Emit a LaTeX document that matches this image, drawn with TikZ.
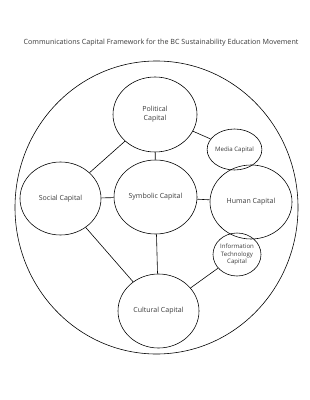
\documentclass[tikz,border=0pt]{standalone}
\usepackage{fontspec}
\setmainfont{Open Sans}
\usepackage{xcolor}
\definecolor{capText}{HTML}{3A3A3A}
\usetikzlibrary{positioning, shapes.geometric}

\begin{document}
\begin{tikzpicture}[x=0.03cm, y=-0.03cm,
    capital/.style={draw, ellipse, line width=0.5pt, inner sep=0pt,
        text=capText, align=center, font=\fontsize{6}{7.5}\selectfont},
    bigcap/.style={capital, minimum width=82*0.03cm, minimum height=74*0.03cm},
    smallcap/.style={capital, font=\fontsize{5.2}{6.5}\selectfont},
    link/.style={line width=0.5pt}]
    % Page frame, as in the reference.
    \useasboundingbox (0,0) rectangle (309,400);

    % --- Title ---
    \node[text=capText, font=\fontsize{6.1}{7}\selectfont] (title) at (161,43)
        {Communications Capital Framework for the BC Sustainability Education Movement};

    % --- Outer boundary ---
    \node[draw, ellipse, line width=0.5pt, minimum width=283*0.03cm,
        minimum height=293*0.03cm] (frame) at (156.5,207.5) {};

    % --- Capitals ---
    \node[bigcap, minimum width=84*0.03cm, minimum height=75*0.03cm] (pol) at (155,114.5) {Political\\Capital};
    \node[smallcap, minimum width=45*0.03cm, minimum height=41*0.03cm] (med) at (234.5,149.5) {Media Capital};
    \node[bigcap, minimum width=83*0.03cm] (sym) at (155.5,197) {Symbolic Capital};
    \node[bigcap, minimum width=81*0.03cm, minimum height=73*0.03cm] (soc) at (60.5,198.5) {Social Capital};
    \node[bigcap] (hum) at (251,202) {Human Capital};
    \node[smallcap, minimum width=48*0.03cm, minimum height=43*0.03cm] (inf) at (237,254.5) {Information\\Technology\\Capital};
    \node[bigcap, minimum width=81*0.03cm] (cul) at (158.5,311) {Cultural Capital};

    % --- Links ---
    \draw[link] (soc) -- (pol);
    \draw[link] (pol) -- (med);
    \draw[link] (pol) -- (sym);
    \draw[link] (soc) -- (sym);
    \draw[link] (sym) -- (hum);
    \draw[link] (sym) -- (cul);
    \draw[link] (soc) -- (cul);
    \draw[link] (inf) -- (cul);
\end{tikzpicture}
\end{document}
